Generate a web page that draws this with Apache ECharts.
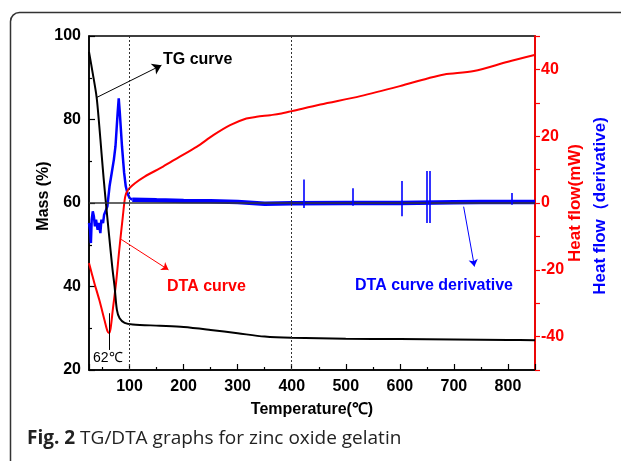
<!DOCTYPE html>
<html>
<head>
<meta charset="utf-8">
<script src="https://cdn.jsdelivr.net/npm/echarts@6/dist/echarts.min.js"></script>
<style>
html,body{margin:0;padding:0;background:#fff;}
#chart{width:621px;height:461px;}
</style>
</head>
<body>
<div id="chart"></div>
<script>
// ---- data ----
// TG curve: temperature (°C) and mass (%)
const tgTemp = [25, 32, 39, 44, 48.2, 52, 56, 61.8, 68, 72.4, 76.6, 81.6, 90.9, 106, 156, 200, 250, 300, 350, 400, 500, 600, 700, 800, 850];
const tgMass = [96.2, 91, 85.4, 78.5, 71.9, 66, 60.4, 52.7, 44.7, 39.9, 34.4, 32.4, 31.3, 30.9, 30.6, 30.3, 29.6, 28.8, 28.0, 27.7, 27.5, 27.4, 27.3, 27.2, 27.1];

// DTA curve: temperature (°C) and heat flow (mW)
const dtaTemp = [25, 30, 35, 44, 53.6, 59, 62, 65, 69, 75, 81, 87.6, 92, 97, 110, 128, 162, 193, 224, 255, 286, 316, 335, 360, 378, 400, 453, 527, 600, 651, 682, 737, 800, 849];
const dtaHeat = [-18, -21, -24, -29, -35, -38.3, -38.9, -37.5, -32, -24, -14, -4, 1.9, 3.9, 5.9, 7.9, 10.9, 13.9, 16.8, 20.3, 23.3, 25.3, 25.8, 26.3, 26.7, 27.5, 29.5, 32, 35, 37.3, 38.5, 39.5, 42.3, 44.3];

// DTA derivative (drawn on the heat-flow scale): early part incl. peak
const derTemp = [25, 27, 28.5, 30, 32, 34, 36, 38, 41, 43, 46, 48, 51, 53, 56, 59, 63, 67, 71, 74, 76, 78, 80, 82, 84, 86, 88, 90, 93, 96, 100, 105];
const derVal  = [-6, -8, -12, -5, -2.5, -4, -7, -5, -8, -6, -9, -5, -6, -3.5, -4, -1, 5, 9, 13, 17, 22, 27, 31.3, 27, 22, 17, 13, 9, 5, 3, 1.5, 1];
// DTA derivative: flat noisy baseline
const derFlatTemp = [105, 150, 200, 250, 300, 350, 400, 500, 600, 700, 750, 800, 850];
const derFlatVal  = [1, 0.8, 0.6, 0.5, 0.3, -0.2, -0.1, 0, 0, 0.2, 0.3, 0.3, 0.3];
// DTA derivative: isolated spikes (temperature, top, bottom)
const spikeTemp = [423, 513, 604, 650.5, 654.5, 807];
const spikeTop  = [7, 4.4, 6.6, 9.6, 9.6, 3];
const spikeBot  = [-1.5, -0.8, -4, -6, -6, -0.5];

// axis ranges / reference lines
const xMin = 25, xMax = 850;
const massMin = 20, massMax = 100;
const heatMin = -50, heatMax = 50;
const dottedTemps = [100, 400];
const peakTemp = 62;
const peakMarker = [-33, -44];            // heat-flow span of the 62℃ marker
const tgArrow = [[39.7, 85.3], [159, 93]]; // (°C, %)
const dtaArrow = [[84.6, -10.9], [172, -20]]; // (°C, mW)
const derArrow = [[718, -1.1], [738, -19]];   // (°C, mW)

const zip = (a, b) => a.map((v, i) => [v, b[i]]);

const chart = echarts.init(document.getElementById('chart'), null, {renderer: 'canvas'});
const F = 'Liberation Sans, Arial, sans-serif';

const spikeLines = spikeTemp.map((t, i) => [
  {coord: [t, spikeBot[i]], symbol: 'none'},
  {coord: [t, spikeTop[i]], symbol: 'none', lineStyle: {color: '#0000ff', width: 1.6, type: 'solid'}}
]);

const option = {
  animation: false,
  backgroundColor: '#fff',
  grid: {left: 89, right: 86, top: 36, bottom: 91, show: true, borderColor: '#000', borderWidth: 1.5, backgroundColor: 'transparent'},
  xAxis: {
    type: 'value', min: xMin, max: xMax, splitNumber: 8,
    axisLine: {onZero: false, lineStyle: {color: '#000', width: 1.5}},
    axisTick: {inside: true, length: 6, lineStyle: {color: '#000', width: 1.2}},
    minorTick: {show: true, splitNumber: 2, length: 3, lineStyle: {color: '#000', width: 1.2}},
    splitLine: {show: false},
    axisLabel: {showMinLabel: false, showMaxLabel: false, margin: 9, color: '#000', fontFamily: F, fontWeight: 'bold', fontSize: 16,
      formatter: v => (v % 100 === 0 ? String(v) : '')}
  },
  yAxis: [
    {
      type: 'value', min: massMin, max: massMax, interval: 20, position: 'left',
      axisLine: {show: true, lineStyle: {color: '#000', width: 1.5}},
      axisTick: {show: true, inside: true, length: 6, lineStyle: {color: '#000', width: 1.2}},
      minorTick: {show: true, splitNumber: 2, length: 3, lineStyle: {color: '#000', width: 1.2}},
      splitLine: {show: false},
      axisLabel: {margin: 8, color: '#000', fontFamily: F, fontWeight: 'bold', fontSize: 16}
    },
    {
      type: 'value', min: heatMin, max: heatMax, interval: 10, position: 'right',
      axisLine: {show: true, lineStyle: {color: '#ff0000', width: 1.8}},
      axisTick: {show: true, inside: false, length: 5, lineStyle: {color: '#ff0000', width: 1.2}},
      splitLine: {show: false},
      axisLabel: {margin: 6, color: '#ff0000', fontFamily: F, fontWeight: 'bold', fontSize: 16,
        formatter: v => (v % 20 === 0 && Math.abs(v) < 50 ? String(v) : '')}
    }
  ],
  series: [
    {
      name: 'TG', type: 'line', yAxisIndex: 0, data: zip(tgTemp, tgMass),
      showSymbol: false, smooth: 0.3, lineStyle: {color: '#000', width: 2}, z: 4,
      markLine: {
        silent: true, animation: false, label: {show: false},
        data: [
          [{coord: tgArrow[0], symbol: 'none'}, {coord: tgArrow[1], symbol: 'arrow', symbolSize: 9, lineStyle: {color: '#000', width: 1, type: 'solid'}}],
          {xAxis: dottedTemps[0], symbol: 'none', lineStyle: {color: '#333', width: 1, type: [2, 2]}},
          {xAxis: dottedTemps[1], symbol: 'none', lineStyle: {color: '#333', width: 1, type: [2, 2]}}
        ],
        symbol: ['none', 'none']
      }
    },
    {
      name: 'DTA', type: 'line', yAxisIndex: 1, data: zip(dtaTemp, dtaHeat),
      showSymbol: false, smooth: 0.3, lineStyle: {color: '#ff0000', width: 2}, z: 3,
      markLine: {
        silent: true, animation: false, label: {show: false}, symbol: ['none', 'none'],
        data: [
          [{coord: dtaArrow[0], symbol: 'none'}, {coord: dtaArrow[1], symbol: 'arrow', symbolSize: 7, lineStyle: {color: '#ff0000', width: 1, type: 'solid'}}],
          [{coord: [peakTemp, peakMarker[0]], symbol: 'none'}, {coord: [peakTemp, peakMarker[1]], symbol: 'none', lineStyle: {color: '#000', width: 1, type: 'solid'}}]
        ]
      }
    },
    {
      name: 'Derivative', type: 'line', yAxisIndex: 1, data: zip(derTemp, derVal),
      showSymbol: false, lineStyle: {color: '#0000ff', width: 2.5}, z: 2
    },
    {
      name: 'DerivativeFlat', type: 'line', yAxisIndex: 1, data: zip(derFlatTemp, derFlatVal),
      showSymbol: false, lineStyle: {color: '#0000ff', width: 4.5}, z: 2,
      markLine: {
        silent: true, animation: false, label: {show: false}, symbol: ['none', 'none'], z: 5,
        data: [
          {yAxis: 0, symbol: 'none', lineStyle: {color: '#333', width: 1.5, type: 'solid'}},
          [{coord: derArrow[0], symbol: 'none'}, {coord: derArrow[1], symbol: 'arrow', symbolSize: 7, lineStyle: {color: '#0000ff', width: 1, type: 'solid'}}]
        ].concat(spikeLines)
      }
    }
  ],
  graphic: [
    {type: 'rect', silent: true, shape: {x: 10.5, y: 12.5, width: 660, height: 500, r: 9},
      style: {fill: 'none', stroke: '#333', lineWidth: 1.5}},
    {type: 'text', x: 44, y: 196, rotation: Math.PI / 2,
      style: {text: 'Mass (%)', fill: '#000', font: 'bold 16px ' + F, align: 'center', verticalAlign: 'middle'}},
    {type: 'text', x: 312, y: 410,
      style: {text: 'Temperature(℃)', fill: '#000', font: 'bold 16px ' + F, align: 'center', verticalAlign: 'middle'}},
    {type: 'text', x: 575, y: 203, rotation: Math.PI / 2,
      style: {text: 'Heat flow(mW)', fill: '#ff0000', font: 'bold 17px ' + F, align: 'center', verticalAlign: 'middle'}},
    {type: 'text', x: 600, y: 206, rotation: Math.PI / 2,
      style: {text: 'Heat flow（derivative)', fill: '#0000ff', font: 'bold 17px ' + F, align: 'center', verticalAlign: 'middle'}},
    {type: 'text', x: 163, y: 60,
      style: {text: 'TG curve', fill: '#000', font: 'bold 16px ' + F, align: 'left', verticalAlign: 'middle'}},
    {type: 'text', x: 167, y: 287,
      style: {text: 'DTA curve', fill: '#ff0000', font: 'bold 16px ' + F, align: 'left', verticalAlign: 'middle'}},
    {type: 'text', x: 355, y: 286,
      style: {text: 'DTA curve derivative', fill: '#0000ff', font: 'bold 16px ' + F, align: 'left', verticalAlign: 'middle'}},
    {type: 'text', x: 93, y: 358,
      style: {text: '62℃', fill: '#000', font: '14px ' + F, align: 'left', verticalAlign: 'middle'}},
    {type: 'text', x: 27, y: 439,
      style: {text: '{b|Fig. 2} TG/DTA graphs for zinc oxide gelatin', fill: '#222', font: '19px Open Sans', align: 'left', verticalAlign: 'middle',
        rich: {b: {fontWeight: 'bold', fontFamily: 'Open Sans', fontSize: 19, fill: '#222'}}}}
  ]
};
chart.setOption(option);
</script>
</body>
</html>
